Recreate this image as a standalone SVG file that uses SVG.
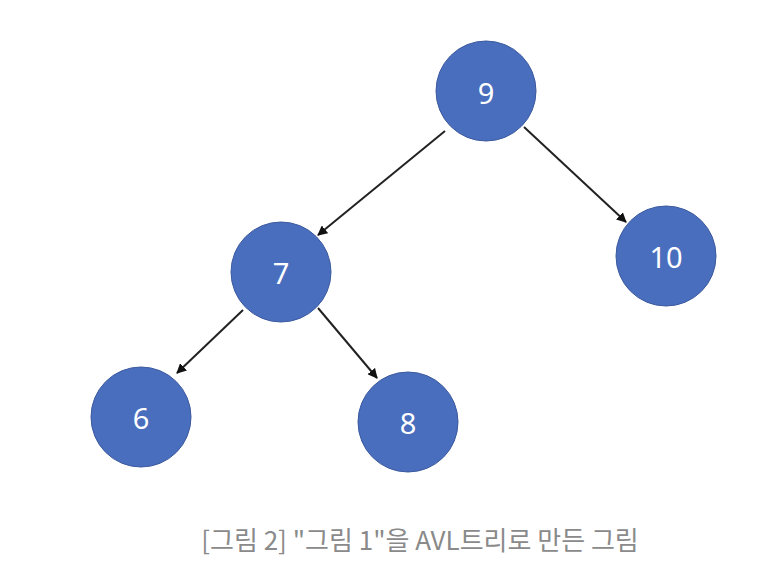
<svg xmlns="http://www.w3.org/2000/svg" width="762" height="566" viewBox="0 0 762 566">
<style>
.n circle{fill:#4a6ebe;stroke:#3c5a9e;stroke-width:1}
.n text{fill:#fff;font-family:"Noto Sans","Liberation Sans",sans-serif;font-size:29px;text-anchor:middle;dominant-baseline:central}
.e line{stroke:#222;stroke-width:2;marker-end:url(#a)}
.cap{fill:#8a8a8a;font-family:"Noto Sans CJK KR","Noto Sans",sans-serif;font-size:26px;text-anchor:middle}
</style>
<defs>
<marker id="a" viewBox="0 0 10 10" refX="9" refY="5" markerWidth="5" markerHeight="5" orient="auto" markerUnits="strokeWidth">
<path d="M0,0 L10,5 L0,10 z" fill="#111"/>
</marker>
</defs>
<rect width="762" height="566" fill="#fff"/>
<g class="e" id="connectors">
<line x1="445" y1="131" x2="318" y2="235"/>
<line x1="524" y1="127" x2="626" y2="222"/>
<line x1="243" y1="310" x2="177" y2="373"/>
<line x1="318" y1="308" x2="377" y2="378"/>
</g>
<g class="n" id="node9"><circle cx="486" cy="91" r="50"/><text x="486" y="92">9</text></g>
<g class="n" id="node7"><circle cx="281" cy="272" r="50"/><text x="281" y="272">7</text></g>
<g class="n" id="node10"><circle cx="666" cy="256" r="50"/><text x="666" y="256">10</text></g>
<g class="n" id="node6"><circle cx="141" cy="417" r="50"/><text x="141" y="417">6</text></g>
<g class="n" id="node8"><circle cx="408" cy="422" r="50"/><text x="408" y="422">8</text></g>
<text class="cap" x="420" y="550">[그림 2] "그림 1"을 AVL트리로 만든 그림</text>
</svg>
